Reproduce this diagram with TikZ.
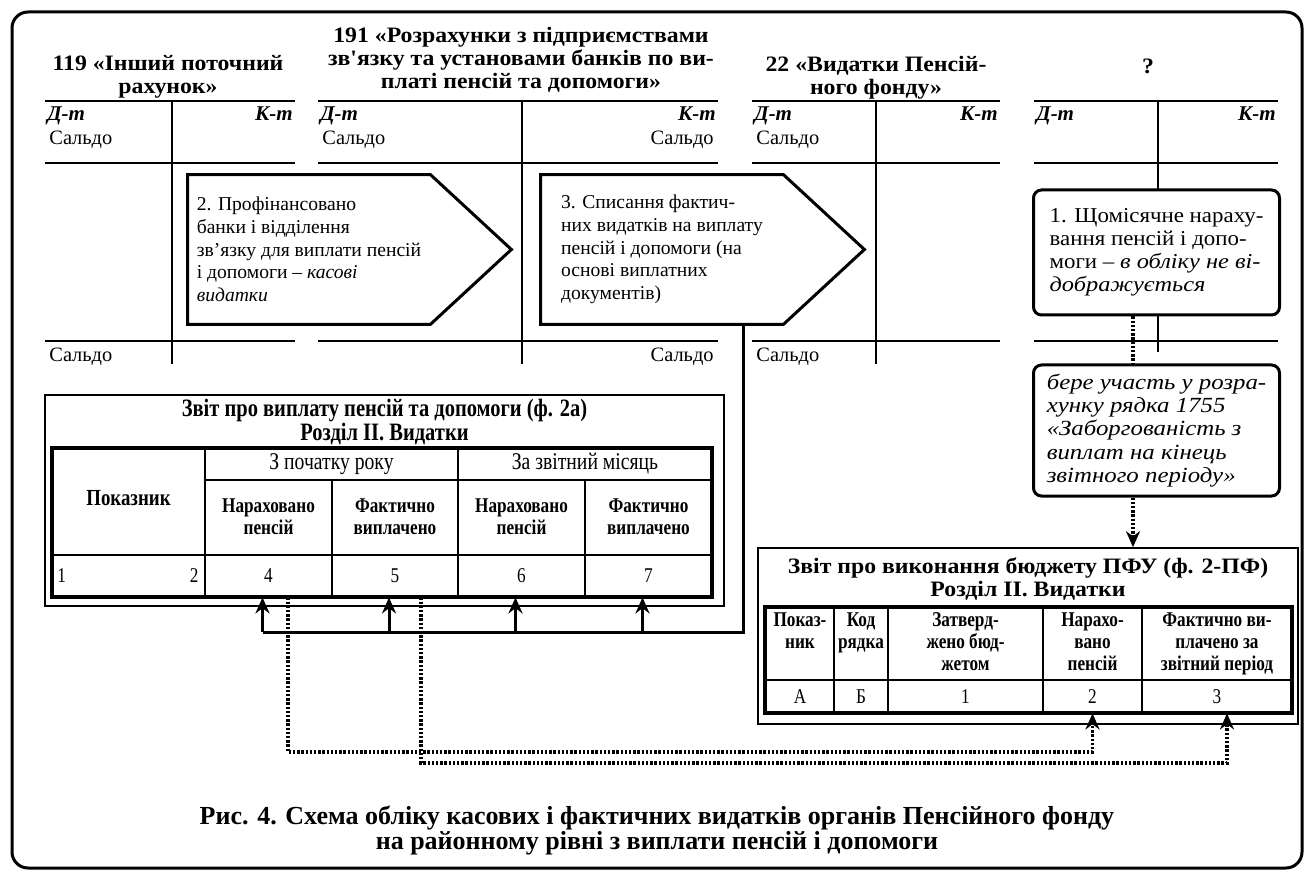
\documentclass[tikz,border=0pt]{standalone}
\usepackage{fontspec}
\setmainfont{Liberation Serif}
\newfontfamily\widefont[FakeStretch=1.08]{Liberation Serif}
\newfontfamily\slantfont[FakeStretch=1.15]{Liberation Serif}
\newfontfamily\condfont[FakeStretch=0.82]{Liberation Serif}
\usetikzlibrary{positioning, arrows.meta, calc}

\begin{document}
\begin{tikzpicture}[x=0.5pt, y=-0.5pt]
    \useasboundingbox (0,0) rectangle (1313,877);

    % Style des noeuds
    \tikzstyle{acctitle} = [font=\widefont\bfseries\fontsize{11}{11.5}\selectfont, align=center, inner sep=0pt]
    \tikzstyle{sidelabel} = [font=\bfseries\itshape\fontsize{10.5}{12}\selectfont, inner sep=1pt]
    \tikzstyle{saldo} = [font=\fontsize{10.2}{12}\selectfont, inner sep=1pt]
    \tikzstyle{boxtext} = [font=\fontsize{9.8}{11.3}\selectfont, align=left]
    \tikzstyle{arrowbox} = [boxtext, minimum width=121pt, minimum height=74.5pt, inner sep=0pt]
    \tikzstyle{note} = [boxtext, draw, fill=white, line width=1.5pt, rounded corners=4pt, minimum width=123pt, inner sep=0pt]
    \tikzstyle{report} = [draw, line width=0.8pt, inner sep=0pt]
    \tikzstyle{reptitle} = [font=\condfont\bfseries\fontsize{12.5}{10.5}\selectfont, align=center, inner sep=0pt]
    \tikzstyle{cellhead} = [font=\condfont\bfseries\fontsize{10.5}{11}\selectfont, align=center, inner sep=0pt]
    \tikzstyle{cell} = [font=\condfont\fontsize{10.5}{12}\selectfont, inner sep=0pt]
    % Traits
    \tikzstyle{tline} = [line width=1.3pt]
    \tikzstyle{boxline} = [line width=1.5pt]
    \tikzstyle{tabborder} = [line width=1.7pt]
    \tikzstyle{thinrule} = [line width=0.6pt]
    \tikzstyle{flow} = [line width=1.5pt]
    \tikzstyle{dotflow} = [line width=1.6pt, dash pattern=on 1.2pt off 0.9pt]
    \tikzstyle{uparrow} = [-{Stealth[length=8pt, width=7pt]}]

    % Cadre
    \draw[line width=1.5pt, rounded corners=8pt] (12,12) rectangle (1302,868);

    % Comptes en T
    \foreach \n/\l/\v/\r/\e in {1/45/172/295/364, 2/318/522/718/364, 3/752/876/1000/364, 4/1034/1158/1278/352} {
        \draw[tline] (\l,101) -- (\r,101);
        \draw[tline] (\l,163) -- (\r,163);
        \draw[tline] (\l,341) -- (\r,341);
        \draw[tline] (\v,101) -- (\v,\e);
        \node[sidelabel, anchor=base west] (dt\n) at (\l,121) {Д-т};
        \node[sidelabel, anchor=base east] (kt\n) at (\r,121) {К-т};
    }
    \node[acctitle] (title1) at (168,77) {119 «Інший поточний\\рахунок»};
    \node[acctitle] (title2) at (521,60) {191 «Розрахунки з підприємствами\\зв'язку та установами банків по ви-\\платі пенсій та допомоги»};
    \node[acctitle] (title3) at (876,78) {22 «Видатки Пенсій-\\ного фонду»};
    \node[acctitle] (title4) at (1148,66) {?};

    \node[saldo, anchor=base west] (s1top) at (47,145) {Сальдо};
    \node[saldo, anchor=base west] (s2top) at (320,145) {Сальдо};
    \node[saldo, anchor=base east] (s2topk) at (716,145) {Сальдо};
    \node[saldo, anchor=base west] (s3top) at (754,145) {Сальдо};
    \node[saldo, anchor=base west] (s1bot) at (47,362) {Сальдо};
    \node[saldo, anchor=base east] (s2bot) at (716,362) {Сальдо};
    \node[saldo, anchor=base west] (s3bot) at (754,362) {Сальдо};

    % Operations
    \node[arrowbox] (box2) at (309,249.5) {2. Профінансовано\\банки і відділення\\зв'язку для виплати пенсій\\і допомоги – \textit{касові}\\\textit{видатки}};
    \draw[boxline] (box2.north west) -- (box2.north east) -- ($(box2.east)+(81,0)$) -- (box2.south east) -- (box2.south west) -- cycle;
    \node[arrowbox] (box3) at (662,249.5) {3. Списання фактич-\\них видатків на виплату\\пенсій і допомоги (на\\основі виплатних\\документів)};
    \draw[boxline] (box3.north west) -- (box3.north east) -- ($(box3.east)+(81,0)$) -- (box3.south east) -- (box3.south west) -- cycle;
    \node[note, minimum height=62.5pt, font=\widefont\fontsize{10.6}{11.5}\selectfont] (box1) at (1156.5,252.5) {1. Щомісячне нараху-\\вання пенсій і допо-\\моги – {\slantfont\itshape в обліку не ві-}\\{\slantfont\itshape дображується}};
    \node[note, minimum height=65.5pt, below=23.5pt of box1, font=\slantfont\itshape\fontsize{10.8}{11.6}\selectfont] (share) {бере участь у розра-\\хунку рядка 1755\\«Заборгованість з\\виплат на кінець\\звітного періоду»};

    % Звіт ф. 2а
    \node[report, minimum width=339.5pt, minimum height=105.5pt] (rep1) at (384.5,500.5) {};
    \node[reptitle] (rep1title) at (384.5,422) {Звіт про виплату пенсій та допомоги (ф. 2а)\\Розділ II. Видатки};
    \draw[tabborder] (52,448) rectangle (712,597);
    \draw[thinrule] (205,448) -- (205,597);
    \draw[thinrule] (458,448) -- (458,597);
    \draw[thinrule] (332,480) -- (332,597);
    \draw[thinrule] (585,480) -- (585,597);
    \draw[thinrule] (205,480) -- (712,480);
    \draw[thinrule] (52,555) -- (712,555);
    \node[cellhead, font=\condfont\bfseries\fontsize{11.5}{12}\selectfont] (h1) at (128.5,498) {Показник};
    \node[cell, font=\condfont\fontsize{12}{12}\selectfont] (g1) at (331.5,464) {З початку року};
    \node[cell, font=\condfont\fontsize{12}{12}\selectfont] (g2) at (585,464) {За звітний місяць};
    \node[cellhead] (h4) at (268.5,517) {Нараховано\\пенсій};
    \node[cellhead] (h5) at (395,517) {Фактично\\виплачено};
    \node[cellhead] (h6) at (521.5,517) {Нараховано\\пенсій};
    \node[cellhead] (h7) at (648.5,517) {Фактично\\виплачено};
    \node[cell, anchor=west] (t1c1) at (57,576) {1};
    \node[cell, anchor=east] (t1c2) at (199,576) {2};
    \node[cell, minimum height=21pt] (t1c4) at (268.5,576) {4};
    \node[cell, minimum height=21pt] (t1c5) at (395,576) {5};
    \node[cell, minimum height=21pt] (t1c6) at (521.5,576) {6};
    \node[cell, minimum height=21pt] (t1c7) at (648.5,576) {7};

    % Звіт ф. 2-ПФ
    \node[report, minimum width=270pt, minimum height=88pt] (rep2) at (1028,636) {};
    \node[acctitle] (rep2title) at (1028,579.5) {Звіт про виконання бюджету ПФУ (ф. 2-ПФ)\\Розділ II. Видатки};
    \draw[tabborder] (765,607) rectangle (1292,713);
    \draw[thinrule] (765,680) -- (1292,680);
    \foreach \x in {834,888,1043,1142} \draw[thinrule] (\x,607) -- (\x,713);
    \node[cellhead, anchor=north] (k1) at (800,612) {Показ-\\ник};
    \node[cellhead, anchor=north] (k2) at (861,612) {Код\\рядка};
    \node[cellhead, anchor=north] (k3) at (965.5,612) {Затверд-\\жено бюд-\\жетом};
    \node[cellhead, anchor=north] (k4) at (1092.5,612) {Нарахо-\\вано\\пенсій};
    \node[cellhead, anchor=north] (k5) at (1217,612) {Фактично ви-\\плачено за\\звітний період};
    \node[cell, minimum height=16.5pt] (t2a) at (800,696.5) {А};
    \node[cell, minimum height=16.5pt] (t2b) at (861,696.5) {Б};
    \node[cell, minimum height=16.5pt] (t2c1) at (965.5,696.5) {1};
    \node[cell, minimum height=16.5pt] (t2c2) at (1092.5,696.5) {2};
    \node[cell, minimum height=16.5pt] (t2c3) at (1217,696.5) {3};

    % Flèches
    \coordinate (foot) at (743,0);
    \coordinate (bus) at (0,632);
    \coordinate (low1) at (0,752);
    \coordinate (low2) at (0,763);
    \coordinate (tap) at (1133,0);
    \foreach \c/\k in {t1c4/4, t1c5/5, t1c6/6, t1c7/7} \coordinate (up\k) at ([xshift=-3pt]\c.south);
    \coordinate (d4) at ([xshift=9.75pt]t1c4.south);
    \coordinate (d5) at ([xshift=13pt]t1c5.south);
    \coordinate (e3) at ([xshift=5pt]t2c3.south);

    \draw[flow] (box3.south -| foot) |- (up4 |- bus);
    \foreach \k in {4,5,6,7} \draw[flow, uparrow] (up\k |- bus) -- (up\k);
    \draw[dotflow, uparrow] (d4) |- (t2c2.south |- low1) -- (t2c2.south);
    \draw[dotflow, uparrow] (d5) |- (e3 |- low2) -- (e3);
    \draw[dotflow] (box1.south -| tap) -- (share.north -| tap);
    \draw[dotflow, uparrow] (share.south -| tap) -- (rep2.north -| tap);

    % Légende
    \node[font=\bfseries\fontsize{13}{12.5}\selectfont, align=center] (caption) at (657,830) {Рис. 4. Схема обліку касових і фактичних видатків органів Пенсійного фонду\\на районному рівні з виплати пенсій і допомоги};
\end{tikzpicture}
\end{document}
